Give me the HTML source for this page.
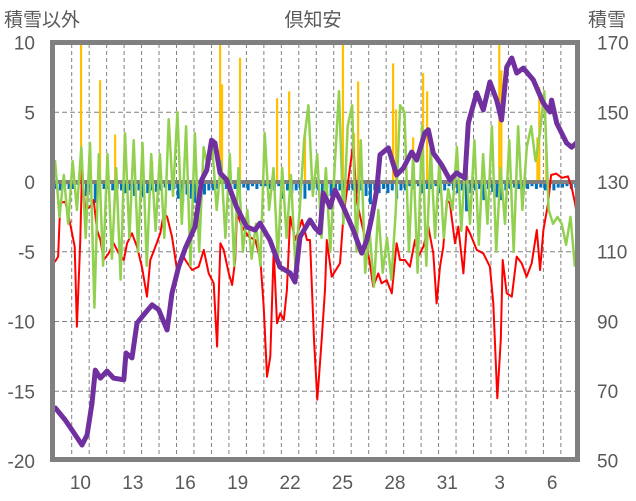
<!DOCTYPE html>
<html><head><meta charset="utf-8"><style>
html,body{margin:0;padding:0;background:#fff;}
svg{display:block;font-family:"Liberation Sans","Noto Sans CJK JP",sans-serif;}
</style></head><body>
<svg id="chart" width="636" height="501" viewBox="0 0 636 501" xmlns="http://www.w3.org/2000/svg">
<g id="grid"></g>
<g id="bars"></g>
<line x1="53" x2="578" y1="182" y2="182" stroke="#808080" stroke-width="4"/>
<g id="lines"></g>
<rect x="52.5" y="42.5" width="525" height="417" fill="none" stroke="#808080" stroke-width="5"/>
<text x="313" y="26" font-size="19" fill="#595959" text-anchor="middle">倶知安</text>
<text x="4" y="26" font-size="19" fill="#595959">積雪以外</text>
<text x="588" y="26" font-size="19" fill="#595959">積雪</text>
<g id="ticks"></g>
</svg>
<script>
const leftTicks=[10,5,0,-5,-10,-15,-20];
const rightTicks=[170,150,130,110,90,70,50];
const dayLabels=[[10,"10"],[13,"13"],[16,"16"],[19,"19"],[22,"22"],[25,"25"],[28,"28"],[31,"31"],[34,"3"],[37,"6"]];

const purpleT=[9.06,9.62,10.02,10.59,10.88,11.16,11.35,11.64,12.02,12.40,12.98,13.11,13.45,13.74,14.21,14.60,14.98,15.46,15.74,16.12,16.50,17.06,17.44,17.73,18.01,18.20,18.49,18.87,19.44,20.02,20.49,20.78,21.35,21.92,22.50,22.78,23.07,23.64,23.93,24.21,24.40,24.79,25.07,25.55,26.12,26.60,26.89,27.17,27.46,27.65,28.12,28.60,28.98,29.46,29.75,30.22,30.41,30.70,31.18,31.65,32.04,32.51,32.70,33.18,33.56,33.94,34.33,34.61,34.90,35.19,35.47,35.85,36.42,36.99,37.38,37.47,37.76,38.33,38.62,38.95];
const purpleV=[65.1,61.7,58.8,54.5,57.4,66.5,76,73.7,75.7,73.7,73.2,80.9,79.5,89.5,92.4,94.7,93.3,87.5,98.1,105.6,111,117.1,130.6,133.4,142,141.2,132.6,130.6,122.8,117.1,116.2,118.2,113.3,105.6,103.9,101.3,114.2,119.1,116.8,115.4,126.8,122.8,127.7,122.8,116.2,109.6,113.3,119.7,127.7,137.8,139.8,132,134,138.6,136.3,144.1,145,138.3,134.9,130.6,132.6,131.1,146.9,155.6,150.7,158.7,153.5,147.8,163,165.6,161.3,162.7,159.3,152.7,150.1,153.5,146.9,141.2,140,141.5];

const redT=[9.05,9.22,9.35,9.63,9.83,10.02,10.17,10.30,10.49,10.59,10.78,11.06,11.26,11.45,11.64,11.83,12.12,12.40,12.69,12.98,13.17,13.45,13.74,14.02,14.31,14.50,14.79,15.07,15.27,15.46,15.74,16.03,16.31,16.50,16.89,17.27,17.56,17.84,18.13,18.32,18.51,18.70,18.99,19.18,19.36,19.46,19.75,20.13,20.51,20.80,20.99,21.18,21.37,21.56,21.75,21.94,22.14,22.32,22.51,22.80,23.18,23.47,23.64,23.87,24.06,24.31,24.50,24.60,24.88,25.36,25.55,25.83,26.12,26.31,26.60,26.89,27.07,27.26,27.55,27.74,28.03,28.32,28.60,28.79,29.08,29.36,29.65,29.84,30.13,30.41,30.70,30.89,31.08,31.27,31.47,31.65,31.94,32.13,32.42,32.61,32.80,33.18,33.56,33.94,34.13,34.36,34.56,34.67,34.90,35.19,35.47,35.76,36.04,36.33,36.62,36.81,37.00,37.27,37.44,37.73,38.07,38.41,38.64,38.81,38.95];
const redV=[-5.7,-5.35,-1.5,-1.41,-2.49,-3.66,-4.64,-10.37,-4.16,0.86,-2.0,-1.77,-1.29,-3.44,-4.16,-5.59,-5.11,-4.39,-5.11,-5.59,-4.39,-3.68,-4.64,-6.07,-8.22,-5.59,-4.64,-3.68,-2.24,-2.49,-3.92,-6.31,-5.11,-5.59,-6.31,-6.07,-4.87,-6.55,-7.26,-11.8,-4.39,-4.87,-6.55,-7.38,-5.59,-2.24,-3.2,-3.92,-4.16,-5.59,-8.94,-13.96,-12.52,-4.87,-10.13,-9.41,-9.89,-7.74,-2.49,-4.16,-2.72,-4.16,-4.16,-11.3,-15.6,-11.3,-7.74,-4.16,-6.79,-5.83,-2.49,0.14,2.77,-1.29,-2.96,-4.64,-5.83,-7.5,-6.55,-7.26,-7.03,-7.98,-4.39,-5.59,-5.59,-6.07,-4.16,-5.35,-4.64,-3.2,-5.11,-8.7,-6.07,-4.64,-1.29,-1.53,-4.39,-3.2,-6.55,-3.2,-3.68,-4.87,-5.11,-6.07,-8.7,-15.5,-11.3,-5.59,-7.98,-8.22,-5.35,-5.83,-6.79,-5.83,-3.44,-6.31,-3.44,-1.53,0.5,0.6,0.3,0.4,-0.5,-1.5,-2.7];

const greenStart=9.05;
const greenStep=0.25;
const greenV=[1.5,-2.5,0.5,-3, 1.5,-2,2.5,-4, 2.8,-9,2,-6, 2,-5.5,1,-7, 3.5,-4,3,-5, 2.8,-6,2,-3.5, 2,-4,4.5,-1, 5,-3,4,-6, 3.5,-5,2.5,1, 2.5,-2,1.5,-4, 2,-6,1,-5, -2,-5.5,-3,-6, 3.5,-2,1,-5.5, 1,-4,0.5,-6, -2,3,5.5,-1, 2,-4,1,-5, 1,6.5,-3,4, 5.5,-5,3,-6.5, -3.5,-7.5,-2,-6.5, -4,-7,-2,5.5, 5,-5,2,-6.5, 4,-6,2.5,-4, 1.5,-4,-0.5,-2, 2.5,-3.5,2,-3, 3,-4.5,2,-3, 4,-5,1,-3, 3,-5,4,-2, 2.5,4,1.5,3.5, 6.5,-2,-3,-2.5, -3,-4.5,-2.5,-6];

const blueStart=9.1;
const blueStep=0.25;
const blueV=[-0.5,-0.6,-0.3,-0.5, -0.5,-0.2,-0.6,-1.0, -0.7,-1.5,-0.6,-0.5, -0.5,-0.6,-0.5,-0.6, -0.8,-0.6,-1.0,-0.6, -1.1,-0.8,-0.6,-0.7, -0.6,-0.4,-0.6,-0.5, -1.2,-1.5,-0.9,-1.2, -1.5,-0.8,-0.9,-0.6, -0.6,-0.5,0,-0.5, -0.6,-0.5,-0.6,-0.4, -0.6,-0.3,-0.5,-0.3, -0.3,-0.5,-0.6,-0.3, -1.2,-0.6,-0.8,-0.6, -0.6,-1.2,-0.6,-0.5, -0.6,-0.8,-0.4,-1.0, -0.5,-0.6,-1.1,-0.6, -0.6,-0.8,-0.6,-1.0, -1.6,-0.6,-0.8,-0.5, -0.8,-0.6,-1.2,-0.6, -0.6,-0.3,-0.5,-0.3, -0.8,-0.5,-0.5,-0.3, -0.8,-0.6,-0.3,-0.6, -0.8,-0.6,-2.1,-0.8, -0.6,-0.5,-1.3,-0.5, -0.7,-1.1,-1.3,-0.6, -0.5,-0.4,-0.5,-0.6, -0.5,-0.3,-0.5,-0.4, -0.6,-0.4,-0.6,-0.4, -0.4,-0.3,-0.5,-0.4];

const yellowT=[10.53,11.62,12.48,14.6,18.49,18.6,19.63,21.75,22.44,23.35,25.52,26.16,26.39,28.39,28.56,29.54,30.11,30.34,34.47,34.59,36.65,36.76,37.16];
const yellowV=[9.9,7.3,3.4,1.5,9.9,7.0,8.9,6.0,6.5,3.5,9.9,3.5,7.2,8.5,5.2,3.2,7.8,6.5,9.9,8.0,3.2,6.8,2.5];

const NS="http://www.w3.org/2000/svg";
function xs(d){return 71.7+(d-10)*17.47;}
function yl(v){return 182-v*13.95;}
function yr(v){return 182-(v-130)*3.483;}
function mk(tag,attrs,parent){const e=document.createElementNS(NS,tag);for(const k in attrs)e.setAttribute(k,attrs[k]);parent.appendChild(e);return e;}

const grid=document.getElementById('grid');
for(let k=0;k<30;k++){const x=xs(10+k);if(x>576)break;
 const l=mk('line',{x1:x,x2:x,y1:44,y2:458,stroke:'#808080','stroke-width':1,'stroke-dasharray':'4,3'},grid);
 
 }
[5,-5,-10,-15].forEach(v=>{const l=mk('line',{x1:54,x2:577,y1:yl(v),y2:yl(v),stroke:'#808080','stroke-width':1,'stroke-dasharray':'5,3'},grid);
 
 });

const bars=document.getElementById('bars');
blueV.forEach((v,i)=>{if(v>=0)return;const x=xs(blueStart+i*blueStep);
 const r=mk('rect',{x:x-1.5,y:183,width:3,height:Math.max(0,yl(v)-183),fill:'#0070C0'},bars);
 
 });
yellowT.forEach((t,i)=>{const x=xs(t);
 const r=mk('rect',{x:x-1,y:yl(yellowV[i]),width:2.2,height:181-yl(yellowV[i]),fill:'#FFC000'},bars);
 
 });

const lines=document.getElementById('lines');
function pl(ts,vs,yf,color,w,name){const pts=ts.map((t,i)=>xs(t).toFixed(1)+','+yf(vs[i]).toFixed(1)).join(' ');
 const p=mk('polyline',{points:pts,fill:'none',stroke:color,'stroke-width':w,'stroke-linejoin':'round','stroke-linecap':'round'},lines);
 
 }
pl(redT,redV,yl,'#FF0000',2,'red-series-line');
const greenT=greenV.map((v,i)=>greenStart+i*greenStep);
pl(greenT,greenV,yl,'#92D050',2.5,'green-series-line');
pl(purpleT,purpleV,yr,'#7030A0',5,'snow-depth-line');

const ticks=document.getElementById('ticks');
leftTicks.forEach(v=>{const t=mk('text',{x:35,y:yl(v)+7,'font-size':19,fill:'#595959','text-anchor':'end'},ticks);t.textContent=v;
 
 });
rightTicks.forEach(v=>{const t=mk('text',{x:597,y:yr(v)+7,'font-size':19,fill:'#595959'},ticks);t.textContent=v;
 
 });
dayLabels.forEach(d=>{const t=mk('text',{x:xs(d[0]+0.5),y:489,'font-size':19,fill:'#595959','text-anchor':'middle'},ticks);t.textContent=d[1];
 
 });
</script>
</body></html>
